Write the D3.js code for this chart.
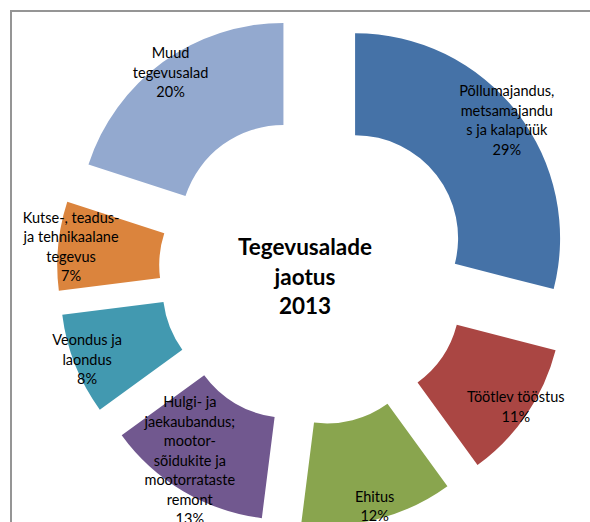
<!DOCTYPE html>
<html>
    <head>
        <meta charset="utf-8">
        <title>Tegevusalade jaotus 2013</title>
        <script src="https://d3js.org/d3.v7.min.js"></script>
        <style>
            body { margin: 0; background: #fff; }
        </style>
    </head>
    <body>
        <script>

        // Data: sectors and shares (percent)
        const categories = [
            "Põllumajandus, metsamajandus ja kalapüük",
            "Töötlev tööstus",
            "Ehitus",
            "Hulgi- ja jaekaubandus; mootorsõidukite ja mootorrataste remont",
            "Veondus ja laondus",
            "Kutse-, teadus- ja tehnikaalane tegevus",
            "Muud tegevusalad"
        ];
        const values = [29, 11, 12, 13, 8, 7, 20];
        // label lines as wrapped in the original
        const labelLines = [
            ["Põllumajandus,", "metsamajandu", "s ja kalapüük"],
            ["Töötlev tööstus"],
            ["Ehitus"],
            ["Hulgi- ja", "jaekaubandus;", "mootor-", "sõidukite ja", "mootorrataste", "remont"],
            ["Veondus ja", "laondus"],
            ["Kutse-, teadus-", "ja tehnikaalane", "tegevus"],
            ["Muud", "tegevusalad"]
        ];
        const colors = ["#4572A7", "#AA4643", "#89A54E", "#71588F", "#4299B0", "#DB843D", "#93A9CF"];
        const titleLines = ["Tegevusalade", "jaotus", "2013"];

        const data = categories.map((c, i) => ({ name: c, value: values[i], lines: labelLines[i] }));

        const svgWidth = 590;
        const svgHeight = 522;
        const cx = 314, cy = 270;
        const outerR = 205, innerR = 103;
        const explode = 52;
        const labelR = 192;
        const lineH = 19.5;

        const svg = d3.select("body").append("svg")
            .attr("width", svgWidth)
            .attr("height", svgHeight)
            .style("font-family", "Lato, 'Open Sans', sans-serif");

        // chart area frame (runs off the right and bottom edges)
        svg.append("rect")
            .attr("x", 11)
            .attr("y", 11)
            .attr("width", 700)
            .attr("height", 700)
            .attr("fill", "none")
            .attr("stroke", "#959595")
            .attr("stroke-width", 2);

        const color = d3.scaleOrdinal()
            .domain(categories)
            .range(colors);

        const pie = d3.pie()
            .sort(null)
            .value(d => d.value);

        const arc = d3.arc()
            .innerRadius(innerR)
            .outerRadius(outerR);

        const labelArc = d3.arc()
            .innerRadius(labelR)
            .outerRadius(labelR);

        const arcs = pie(data);

        const g = svg.append("g")
            .attr("transform", `translate(${cx},${cy})`);

        const offset = d => {
            const mid = (d.startAngle + d.endAngle) / 2;
            return [Math.sin(mid) * explode, -Math.cos(mid) * explode];
        };

        const slice = g.selectAll("g.slice")
            .data(arcs)
            .join("g")
            .attr("class", "slice")
            .attr("transform", d => `translate(${offset(d)})`);

        slice.append("path")
            .attr("d", arc)
            .attr("fill", d => color(d.data.name));

        // labels: keep the last line's centre inside the page like the original
        const maxLastY = svgHeight - 3;
        const label = slice.append("text")
            .attr("text-anchor", "middle")
            .attr("font-size", 14.5)
            .attr("fill", "#000");

        label.each(function(d) {
            const lines = d.data.lines.concat([d.data.value + "%"]);
            const [lx, ly] = labelArc.centroid(d);
            const [ox, oy] = offset(d);
            const half = (lines.length - 1) / 2 * lineH;
            let yc = ly;
            if (cy + oy + yc + half > maxLastY) yc = maxLastY - half - cy - oy;
            const t = d3.select(this).attr("transform", `translate(${lx},${yc})`);
            lines.forEach((ln, i) => {
                t.append("tspan")
                    .attr("x", 0)
                    .attr("y", -half + i * lineH)
                    .attr("dy", "0.35em")
                    .text(ln);
            });
        });

        // centre title
        const title = svg.append("text")
            .attr("text-anchor", "middle")
            .attr("font-size", 22.5)
            .attr("font-weight", "bold")
            .attr("fill", "#000");

        titleLines.forEach((t, i) => {
            title.append("tspan")
                .attr("x", 305)
                .attr("y", 255 + i * 29.5)
                .text(t);
        });

        </script>
    </body>
</html>
